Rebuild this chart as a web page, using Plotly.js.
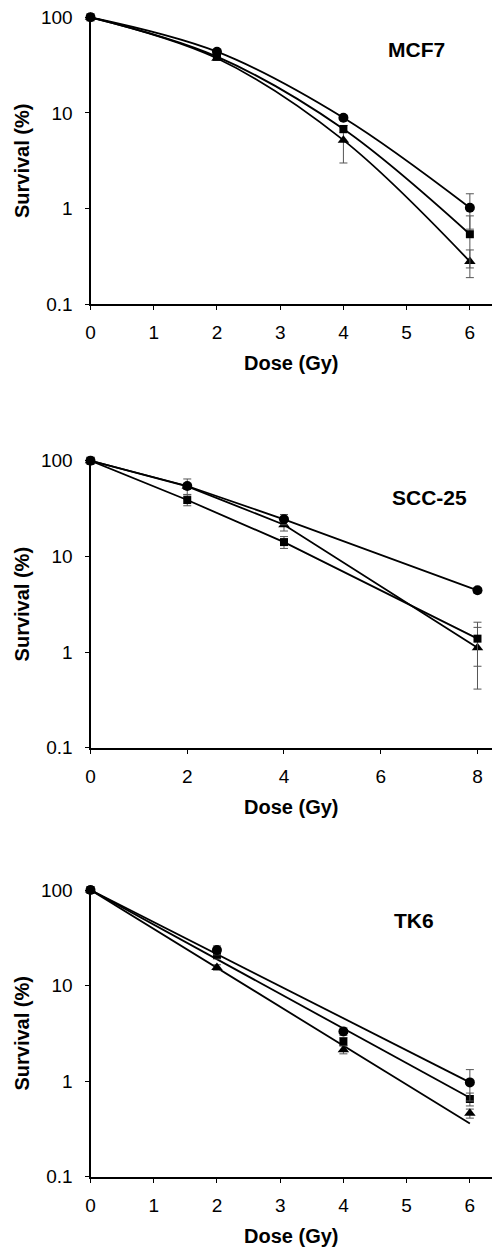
<!DOCTYPE html>
<html>
<head>
<meta charset="utf-8">
<script src="https://cdn.plot.ly/plotly-3.0.1.min.js"></script>
<style>
html,body{margin:0;padding:0;background:#fff;}
#chart{width:492px;height:1252px;}
</style>
</head>
<body>
<div id="chart"></div>
<script>
// ---- Data ----
const panelTitles = ['MCF7', 'SCC-25', 'TK6'];

// MCF7
const mcf7Dose = [0, 2, 4, 6];
const mcf7Circle = [100, 43.7, 8.9, 1.02];
const mcf7CircleErr = [0, 1.5, 0.5, 0.41];
const mcf7Square = [100, 38.8, 6.8, 0.54];
const mcf7SquareErr = [0, 1.5, 0.6, 0.30];
const mcf7Triangle = [100, 37.3, 5.2, 0.28];
const mcf7TriangleErr = [0, 1.5, 2.2, 0.09];

// SCC-25
const sccDose = [0, 2, 4, 8];
const sccCircle = [100, 54.4, 24.4, 4.42];
const sccCircleErr = [0, 10, 3, 0.3];
const sccSquare = [100, 38.8, 14.1, 1.38];
const sccSquareErr = [0, 5, 2, 0.67];
const sccTriangle = [100, 54, 21.4, 1.11];
const sccTriangleErr = [0, 4, 3, 0.70];

// TK6
const tk6Dose = [0, 2, 4, 6];
const tk6Circle = [100, 23.5, 3.31, 0.97];
const tk6CircleErr = [0, 2.5, 0.3, 0.35];
const tk6Square = [100, 21, 2.6, 0.65];
const tk6SquareErr = [0, 2, 0.25, 0.1];
const tk6Triangle = [100, 15.5, 2.13, 0.46];
const tk6TriangleErr = [0, 1, 0.2, 0.05];
// fitted straight (log) lines, endpoints
const tk6FitDose = [0, 6];
const tk6FitCircle = [100, 0.97];
const tk6FitSquare = [100, 0.67];
const tk6FitTriangle = [100, 0.36];

const xTicks1 = [0, 1, 2, 3, 4, 5, 6];
const xTicks2 = [0, 2, 4, 6, 8];
const yTickVals = [0.1, 1, 10, 100];
const yTickText = ['0.1', '1', '10', '100'];

// ---- Styling ----
const FONT = 'Liberation Sans, Arial, Helvetica, sans-serif';
const errStyle = {type: 'data', visible: true, color: '#555', thickness: 1, width: 4};
const markerDefs = {
  circle: {symbol: 'circle', size: 10, color: '#000'},
  square: {symbol: 'square', size: 8, color: '#000'},
  triangle: {symbol: 'triangle-up', size: 10, color: '#000'}
};

const traces = [];
function addLine(x, y, ax, shape) {
  traces.push({x: x, y: y, xaxis: 'x' + ax, yaxis: 'y' + ax, mode: 'lines',
    line: {color: '#000', width: 1.8, shape: shape || 'linear', smoothing: 1},
    hoverinfo: 'skip', showlegend: false});
}
function addMarkers(x, y, err, ax, kind) {
  traces.push({x: x, y: y, xaxis: 'x' + ax, yaxis: 'y' + ax, mode: 'markers',
    marker: markerDefs[kind], cliponaxis: false,
    error_y: Object.assign({array: err}, errStyle), showlegend: false});
}

// Panel 1: smooth curves
addLine(mcf7Dose, mcf7Circle, '', 'spline');
addLine(mcf7Dose, mcf7Square, '', 'spline');
addLine(mcf7Dose, mcf7Triangle, '', 'spline');
addMarkers(mcf7Dose, mcf7Triangle, mcf7TriangleErr, '', 'triangle');
addMarkers(mcf7Dose, mcf7Square, mcf7SquareErr, '', 'square');
addMarkers(mcf7Dose, mcf7Circle, mcf7CircleErr, '', 'circle');

// Panel 2: connected points
addLine(sccDose, sccCircle, '2');
addLine(sccDose, sccSquare, '2');
addLine(sccDose, sccTriangle, '2');
addMarkers(sccDose, sccTriangle, sccTriangleErr, '2', 'triangle');
addMarkers(sccDose, sccSquare, sccSquareErr, '2', 'square');
addMarkers(sccDose, sccCircle, sccCircleErr, '2', 'circle');

// Panel 3: fitted straight lines
addLine(tk6FitDose, tk6FitCircle, '3');
addLine(tk6FitDose, tk6FitSquare, '3');
addLine(tk6FitDose, tk6FitTriangle, '3');
addMarkers(tk6Dose, tk6Triangle, tk6TriangleErr, '3', 'triangle');
addMarkers(tk6Dose, tk6Square, tk6SquareErr, '3', 'square');
addMarkers(tk6Dose, tk6Circle, tk6CircleErr, '3', 'circle');

const H = 1252, W = 492;
function yDom(top, bottom) { return [1 - bottom / H, 1 - top / H]; }
const xDomain = [90.5 / W, 1];

function xAxis(anchor, range, ticks) {
  return {
    domain: xDomain, anchor: anchor, range: range, tickvals: ticks,
    ticks: 'outside', ticklen: 4, tickwidth: 1, tickcolor: '#000',
    showline: true, linewidth: 2, linecolor: '#000', mirror: false,
    showgrid: false, zeroline: false, fixedrange: true,
    tickfont: {family: FONT, size: 19, color: '#000'},
    ticklabelstandoff: 6,
    title: {text: 'Dose (Gy)', standoff: 14,
      font: {family: FONT, size: 20, color: '#000', weight: 'bold'}}
  };
}
function yAxis(anchor, dom) {
  return {
    domain: dom, anchor: anchor, type: 'log', range: [-1, 2],
    tickvals: yTickVals, ticktext: yTickText,
    ticks: 'outside', ticklen: 4, tickwidth: 1, tickcolor: '#000',
    showline: true, linewidth: 2, linecolor: '#000',
    showgrid: false, zeroline: false, fixedrange: true,
    tickfont: {family: FONT, size: 19, color: '#000'},
    ticklabelstandoff: 8,
    title: {text: 'Survival (%)', standoff: 6,
      font: {family: FONT, size: 20, color: '#000', weight: 'bold'}}
  };
}

function panelLabel(text, xpx, ypx) {
  return {text: text, xref: 'paper', yref: 'paper', x: xpx / W, y: 1 - ypx / H,
    xanchor: 'center', yanchor: 'middle', showarrow: false,
    font: {family: FONT, size: 21, color: '#000', weight: 'bold'}};
}

const layout = {
  width: W, height: H,
  margin: {l: 0, r: 0, t: 0, b: 0},
  paper_bgcolor: '#fff', plot_bgcolor: '#fff',
  showlegend: false,
  xaxis: xAxis('y', [0, 6.35], xTicks1),
  yaxis: yAxis('x', yDom(17.3, 304.3)),
  xaxis2: xAxis('y2', [0, 8.3], xTicks2),
  yaxis2: yAxis('x2', yDom(460.7, 747.7)),
  xaxis3: xAxis('y3', [0, 6.35], xTicks1),
  yaxis3: yAxis('x3', yDom(890, 1176.7)),
  annotations: [
    panelLabel(panelTitles[0], 416, 49),
    panelLabel(panelTitles[1], 429, 497),
    panelLabel(panelTitles[2], 414, 920)
  ]
};

Plotly.newPlot('chart', traces, layout, {displayModeBar: false, staticPlot: true});
</script>
</body>
</html>
